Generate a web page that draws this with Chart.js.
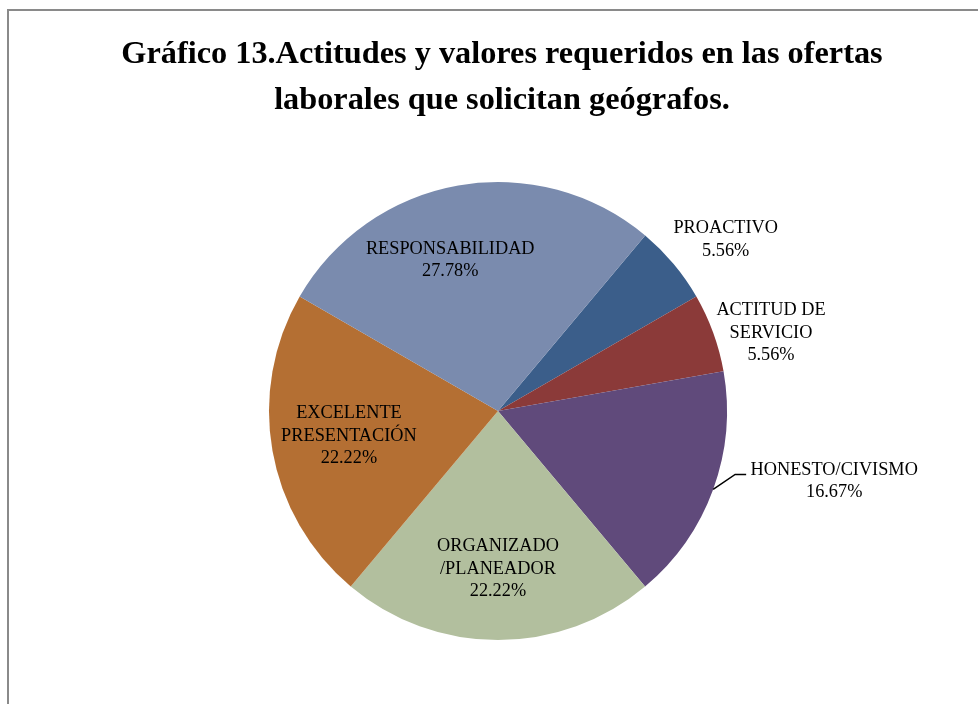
<!DOCTYPE html>
<html>
<head>
<meta charset="utf-8">
<script src="https://cdn.jsdelivr.net/npm/chart.js@4.4.1/dist/chart.umd.min.js"></script>
<style>
  html, body { margin: 0; padding: 0; background: #fff; overflow: hidden; }
  #wrap { position: relative; width: 978px; height: 704px; }
  #frame { position: absolute; left: 7px; top: 9px; width: 1100px; height: 1000px; border: 2px solid #8a8a8a; }
  #title { position: absolute; left: 0; top: 29px; width: 1004px; text-align: center;
    font: bold 32.3px "Liberation Serif", "Times New Roman", serif; line-height: 46px; color: #000; }
  canvas { position: absolute; left: 0; top: 0; }
</style>
</head>
<body>
<div id="wrap">
  <div id="frame"></div>
  <canvas id="pieChart" width="978" height="704"></canvas>
  <div id="title">Gráfico 13.Actitudes y valores requeridos en las ofertas<br>laborales que solicitan geógrafos.</div>
</div>
<script>
// Data
const labels = ['PROACTIVO', 'ACTITUD DE SERVICIO', 'HONESTO/CIVISMO', 'ORGANIZADO /PLANEADOR', 'EXCELENTE PRESENTACIÓN', 'RESPONSABILIDAD'];
const values = [5.56, 5.56, 16.67, 22.22, 22.22, 27.78];
const labelLines = [
    ['PROACTIVO'],
    ['ACTITUD DE', 'SERVICIO'],
    ['HONESTO/CIVISMO'],
    ['ORGANIZADO', '/PLANEADOR'],
    ['EXCELENTE', 'PRESENTACIÓN'],
    ['RESPONSABILIDAD']
];
const colors = ['#3b5e8a', '#8b3a39', '#604a7b', '#b2bf9e', '#b46f33', '#7a8bae'];

// label placement: radius factor and angle nudge (degrees)
const labelLayout = [
    { r: 1.245, da: 3 },
    { r: 1.24, da: 4 },
    { r: 1.50, da: -8.2, leader: true },
    { r: 0.69, da: 0 },
    { r: 0.66, da: 0.5 },
    { r: 0.69, da: -7.6 }
];

const sliceLabels = {
    id: 'sliceLabels',
    afterDraw(chart) {
        const ctx = chart.ctx;
        const meta = chart.getDatasetMeta(0);
        ctx.save();
        ctx.font = '18.3px "Liberation Serif", "Times New Roman", serif';
        ctx.fillStyle = '#000';
        ctx.textAlign = 'center';
        ctx.textBaseline = 'middle';
        meta.data.forEach((arc, i) => {
            const p = arc.getProps(['x', 'y', 'startAngle', 'endAngle', 'outerRadius'], true);
            const mid = (p.startAngle + p.endAngle) / 2;
            const lay = labelLayout[i];
            const a = mid + lay.da * Math.PI / 180;
            const cx = p.x + Math.cos(a) * p.outerRadius * lay.r;
            const cy = p.y + Math.sin(a) * p.outerRadius * lay.r;
            const lines = labelLines[i].concat([values[i].toFixed(2) + '%']);
            const lh = 22.5;
            lines.forEach((t, k) => {
                ctx.fillText(t, cx, cy + (k - (lines.length - 1) / 2) * lh);
            });
            if (lay.leader) {
                const sx = p.x + Math.cos(mid) * p.outerRadius;
                const sy = p.y + Math.sin(mid) * p.outerRadius;
                ctx.strokeStyle = '#000';
                ctx.lineWidth = 1.5;
                ctx.beginPath();
                ctx.moveTo(sx, sy);
                ctx.lineTo(sx + 22, cy - 7);
                ctx.lineTo(sx + 33, cy - 7);
                ctx.stroke();
            }
        });
        ctx.restore();
    }
};

const ctxPie = document.getElementById('pieChart').getContext('2d');
const pieChart = new Chart(ctxPie, {
    type: 'pie',
    data: {
        labels: labels,
        datasets: [{
            data: values,
            backgroundColor: colors,
            borderWidth: 0
        }]
    },
    options: {
        responsive: false,
        animation: false,
        rotation: 40,
        layout: { padding: { top: 182, bottom: 64, left: 269, right: 251 } },
        plugins: {
            legend: { display: false },
            tooltip: { enabled: false },
            title: { display: false }
        }
    },
    plugins: [sliceLabels]
});
</script>
</body>
</html>
